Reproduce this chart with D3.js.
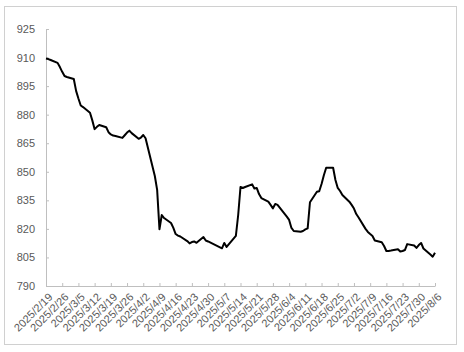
<!DOCTYPE html>
<html>
<head>
<meta charset="utf-8">
<script src="https://cdn.jsdelivr.net/npm/d3@7"></script>
<style>
    body { margin: 0; background: #fff; }
    .chart text { font-family: "Liberation Sans", Arial, sans-serif; fill: #595959; }
</style>
</head>
<body>
<div class="chart"></div>
<script>
// trading days and closing values
var dates = [
    "2025-02-19","2025-02-20","2025-02-21","2025-02-24","2025-02-25","2025-02-26","2025-02-27","2025-02-28",
    "2025-03-03","2025-03-04","2025-03-05","2025-03-06","2025-03-07","2025-03-10","2025-03-11","2025-03-12",
    "2025-03-13","2025-03-14","2025-03-17","2025-03-18","2025-03-19","2025-03-20","2025-03-21","2025-03-24",
    "2025-03-25","2025-03-26","2025-03-27","2025-03-28","2025-03-31","2025-04-01","2025-04-02","2025-04-03",
    "2025-04-07","2025-04-08","2025-04-09","2025-04-10","2025-04-11","2025-04-14","2025-04-15","2025-04-16",
    "2025-04-17","2025-04-18","2025-04-21","2025-04-22","2025-04-23","2025-04-24","2025-04-25","2025-04-28",
    "2025-04-29","2025-04-30","2025-05-06","2025-05-07","2025-05-08","2025-05-09","2025-05-12","2025-05-13",
    "2025-05-14","2025-05-15","2025-05-16","2025-05-19","2025-05-20","2025-05-21","2025-05-22","2025-05-23",
    "2025-05-26","2025-05-27","2025-05-28","2025-05-29","2025-05-30","2025-06-03","2025-06-04","2025-06-05",
    "2025-06-06","2025-06-09","2025-06-10","2025-06-11","2025-06-12","2025-06-13","2025-06-16","2025-06-17",
    "2025-06-18","2025-06-19","2025-06-20","2025-06-23","2025-06-24","2025-06-25","2025-06-26","2025-06-27",
    "2025-06-30","2025-07-01","2025-07-02","2025-07-03","2025-07-04","2025-07-07","2025-07-08","2025-07-09",
    "2025-07-10","2025-07-11","2025-07-14","2025-07-15","2025-07-16","2025-07-17","2025-07-18","2025-07-21",
    "2025-07-22","2025-07-23","2025-07-24","2025-07-25","2025-07-28","2025-07-29","2025-07-30","2025-07-31",
    "2025-08-01","2025-08-04","2025-08-05","2025-08-06"
];
var values = [
    909.5, 909.2, 908.7, 907.2, 905.0, 902.5, 900.3, 899.8,
    898.7, 892.5, 888.5, 884.8, 884.0, 881.0, 877.0, 872.4,
    873.6, 874.6, 873.4, 870.8, 869.6, 869.0, 868.8, 867.8,
    869.2, 870.6, 871.6, 870.3, 867.3, 868.0, 869.3, 867.6,
    847.8, 840.5, 819.8, 827.3, 825.7, 823.1, 820.5, 817.3,
    816.5, 816.0, 813.6, 812.4, 813.1, 813.4, 812.7, 815.7,
    813.9, 813.4, 809.8, 812.6, 810.5, 812.0, 816.3, 827.3,
    842.0, 841.5, 842.0, 843.4, 841.2, 841.5, 838.3, 836.2,
    834.3, 832.6, 830.8, 833.1, 832.6, 826.4, 824.7, 820.5,
    818.9, 818.5, 818.9, 819.7, 820.3, 834.0, 839.5, 839.8,
    843.6, 848.2, 852.1, 852.1, 845.7, 841.5, 839.9, 837.8,
    834.3, 832.6, 830.7, 827.8, 826.0, 820.0, 818.4, 817.3,
    816.3, 813.9, 813.0, 811.0, 808.4, 808.4, 808.6, 809.3,
    808.1, 808.4, 808.9, 812.0, 811.3, 810.0, 811.5, 812.6,
    809.7, 806.5, 805.4, 807.5
];
var xTickLabels = [
    "2025/2/19","2025/2/26","2025/3/5","2025/3/12","2025/3/19","2025/3/26","2025/4/2",
    "2025/4/9","2025/4/16","2025/4/23","2025/4/30","2025/5/7","2025/5/14","2025/5/21",
    "2025/5/28","2025/6/4","2025/6/11","2025/6/18","2025/6/25","2025/7/2","2025/7/9",
    "2025/7/16","2025/7/23","2025/7/30","2025/8/6"
];
var yTicks = [790, 805, 820, 835, 850, 865, 880, 895, 910, 925];

var width = 464, height = 352;
var margin = {top: 29, right: 29, bottom: 66, left: 46};

var parseDate = d3.timeParse("%Y-%m-%d");
var parseTick = d3.timeParse("%Y/%m/%d");
var formatTick = d3.timeFormat("%Y/%-m/%-d");

var data = dates.map(function(d, i) { return {date: parseDate(d), value: values[i]}; });
var tickDates = xTickLabels.map(function(d) { return parseTick(d); });

var svg = d3.select(".chart").append("svg")
    .attr("width", width)
    .attr("height", height);

svg.append("rect")
    .attr("x", 4.5)
    .attr("y", 6.5)
    .attr("width", 452)
    .attr("height", 338)
    .attr("fill", "#fff")
    .attr("stroke", "#d0d0d0");

var x = d3.scaleTime()
    .domain([tickDates[0], tickDates[tickDates.length - 1]])
    .range([margin.left, width - margin.right]);

var y = d3.scaleLinear()
    .domain([790, 925])
    .range([height - margin.bottom, margin.top]);

var yAxis = svg.append("g")
    .attr("transform", "translate(" + margin.left + ",0)")
    .call(d3.axisLeft(y)
        .tickValues(yTicks)
        .tickSizeInner(-3)
        .tickSizeOuter(0)
        .tickPadding(11));

var xAxis = svg.append("g")
    .attr("transform", "translate(0," + (height - margin.bottom) + ")")
    .call(d3.axisBottom(x)
        .tickValues(tickDates)
        .tickFormat(formatTick)
        .tickSizeInner(-3)
        .tickSizeOuter(0));

svg.selectAll(".domain, .tick line")
    .attr("stroke", "#bfbfbf");

yAxis.selectAll("text")
    .style("font-size", "11px");

xAxis.selectAll("text")
    .attr("x", 0)
    .attr("y", 0)
    .attr("dy", "0.35em")
    .attr("text-anchor", "end")
    .attr("transform", "translate(4,9) rotate(-45)")
    .style("font-size", "11px");

var line = d3.line()
    .x(function(d) { return x(d.date); })
    .y(function(d) { return y(d.value); });

svg.append("path")
    .datum(data)
    .attr("d", line)
    .attr("fill", "none")
    .attr("stroke", "#000")
    .attr("stroke-width", 2)
    .attr("stroke-linejoin", "round");
</script>
</body>
</html>
